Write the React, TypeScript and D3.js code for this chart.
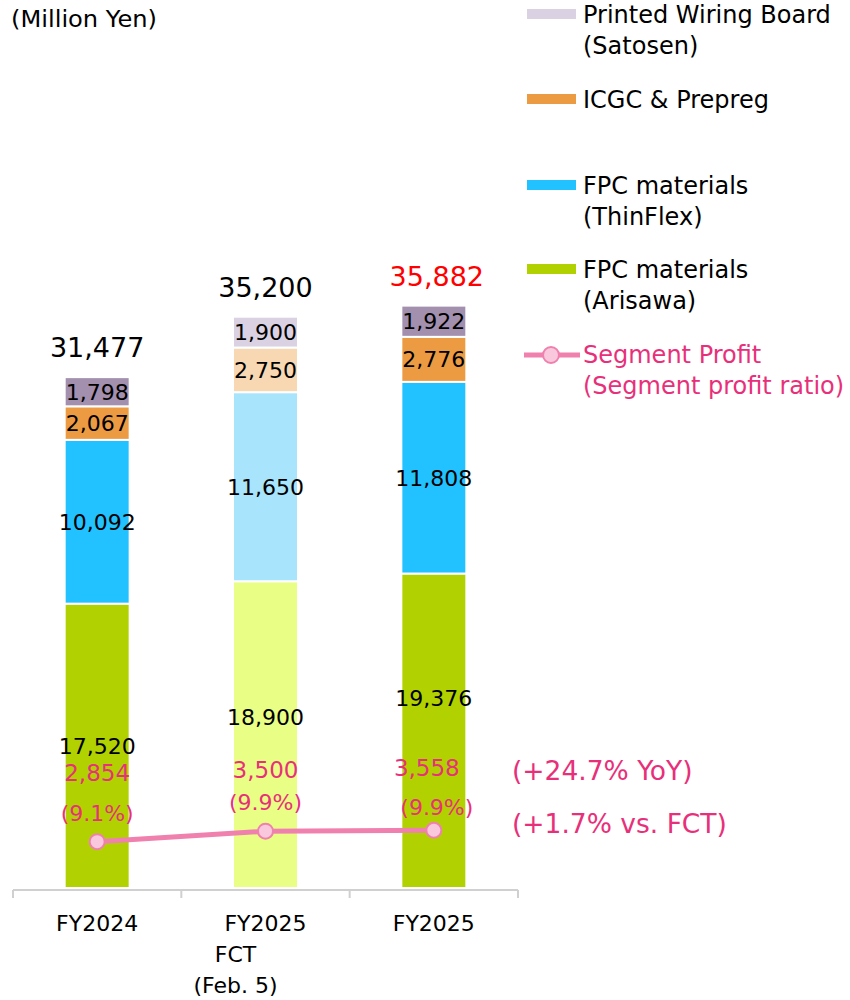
import React from "react";
import * as d3 from "d3";

const categories = ["FY2024", "FY2025 FCT", "FY2025"];
const categoryLabels = [["FY2024"], ["FY2025", "FCT", "(Feb. 5)"], ["FY2025"]];
const isForecast = [false, true, false];
const seriesKeys = ["arisawa", "thinflex", "icgc", "pwb"];
const seriesNames = [
  ["FPC materials", "(Arisawa)"],
  ["FPC materials", "(ThinFlex)"],
  ["ICGC & Prepreg"],
  ["Printed Wiring Board", "(Satosen)"],
];
const arisawa = [17520, 18900, 19376];
const thinflex = [10092, 11650, 11808];
const icgc = [2067, 2750, 2776];
const pwb = [1798, 1900, 1922];
const totals = [31477, 35200, 35882];
const segmentProfit = [2854, 3500, 3558];
const profitRatio = ["(9.1%)", "(9.9%)", "(9.9%)"];
const annotations = ["(+24.7% YoY)", "(+1.7% vs. FCT)"];

const colorsActual = ["#b2d100", "#22c1ff", "#ec9b42", "#a38fae"];
const colorsFct = ["#e8fe85", "#a8e5fc", "#f8d8b2", "#dad2e2"];
const legendColors = ["#b2d100", "#22c1ff", "#ec9b42", "#dad2e2"];
const lineColor = "#f080ae";
const pink = "#e8307a";
const FONT = "'DejaVu Sans', Verdana, sans-serif";

export default function App() {
  const W = 850, H = 1000;
  const base = 888;
  const y = d3.scaleLinear().domain([0, 40000]).range([base, base - 40000 * 0.01623]);
  const x = d3.scaleBand().domain(categories).range([13, 518]).paddingInner(0.614).paddingOuter(0.307);
  const bw = x.bandwidth();
  const cx = (c: string) => (x(c) as number) + bw / 2;

  const rows = categories.map((c, i) => ({
    cat: c,
    arisawa: arisawa[i],
    thinflex: thinflex[i],
    icgc: icgc[i],
    pwb: pwb[i],
  }));
  const stacked = d3.stack<any>().keys(seriesKeys)(rows);

  // label placement tweaks (styling only)
  const bottomLabelShift = [0, -18, -33];
  const profitValShift = [-69, -61, -63];
  const profitRatioShift = [-29, -29, -23];
  const profitValDx = [0, 0, -7];
  const profitRatioDx = [0, 0, 3];

  const line = d3
    .line<number>()
    .x((_, i) => cx(categories[i]))
    .y((v) => y(v));

  const step = x.step();
  const axisStart = 13;
  const tickXs = [0, 1, 2, 3].map((k) => axisStart + k * step);

  const legendItems = [
    { idx: 3, y: 14 },
    { idx: 2, y: 99 },
    { idx: 1, y: 185 },
    { idx: 0, y: 269 },
  ];

  return (
    <svg
      width={W}
      height={H}
      style={{ position: "absolute", left: 0, top: 0, background: "#fff" }}
      fontFamily={FONT}
    >
      <text x={11} y={27} fontSize={23} textLength={146} lengthAdjust="spacingAndGlyphs" fill="#000">(Million Yen)</text>

      {stacked.map((s, si) =>
        s.map((d, ci) => {
          const y0 = y(d[0]);
          const y1 = y(d[1]);
          const fill = isForecast[ci] ? colorsFct[si] : colorsActual[si];
          return (
            <rect
              key={`r${si}-${ci}`}
              x={x(categories[ci])}
              y={y1}
              width={bw}
              height={y0 - y1}
              fill={fill}
              stroke="#fff"
              strokeWidth={2}
            />
          );
        })
      )}

      {stacked.map((s, si) =>
        s.map((d, ci) => {
          const mid = (y(d[0]) + y(d[1])) / 2 + (si === 0 ? bottomLabelShift[ci] : 0);
          const v = d[1] - d[0];
          return (
            <text
              key={`l${si}-${ci}`}
              x={cx(categories[ci])}
              y={mid}
              dy="0.36em"
              textAnchor="middle"
              fontSize={22}
              fill="#000"
            >
              {d3.format(",")(v)}
            </text>
          );
        })
      )}

      {totals.map((t, i) => (
        <text
          key={`t${i}`}
          x={cx(categories[i]) + (i === 2 ? 3 : 0)}
          y={y(t) - 20}
          textAnchor="middle"
          fontSize={27}
          fill={i === 2 ? "#ff0000" : "#000"}
        >
          {d3.format(",")(t)}
        </text>
      ))}

      {/* axis */}
      <line x1={axisStart} x2={tickXs[3]} y1={base + 2} y2={base + 2} stroke="#d0d0d0" strokeWidth={2} />
      {tickXs.map((tx, i) => (
        <line key={`tk${i}`} x1={tx} x2={tx} y1={base + 2} y2={base + 10} stroke="#d0d0d0" strokeWidth={2} />
      ))}
      {categoryLabels.map((lines, i) =>
        lines.map((l, j) => (
          <text
            key={`c${i}-${j}`}
            x={cx(categories[i]) + (j > 0 ? -30 : 0)}
            y={931 + j * 31}
            textAnchor="middle"
            fontSize={22}
            fill="#000"
          >
            {l}
          </text>
        ))
      )}

      {/* profit line */}
      <path d={line(segmentProfit) as string} fill="none" stroke={lineColor} strokeWidth={5} />
      {segmentProfit.map((v, i) => (
        <circle key={`p${i}`} cx={cx(categories[i])} cy={y(v)} r={7.5} fill="#f9c8dc" stroke={lineColor} strokeWidth={2} />
      ))}
      {segmentProfit.map((v, i) => (
        <text
          key={`pv${i}`}
          x={cx(categories[i]) + profitValDx[i]}
          y={y(v) + profitValShift[i]}
          dy="0.36em"
          textAnchor="middle"
          fontSize={23}
          fill={pink}
        >
          {d3.format(",")(v)}
        </text>
      ))}
      {profitRatio.map((r, i) => (
        <text
          key={`pr${i}`}
          x={cx(categories[i]) + profitRatioDx[i]}
          y={y(segmentProfit[i]) + profitRatioShift[i]}
          dy="0.36em"
          textAnchor="middle"
          fontSize={22}
          fill={pink}
        >
          {r}
        </text>
      ))}
      {annotations.map((a, i) => (
        <text key={`a${i}`} x={512} y={770 + i * 53} dy="0.36em" fontSize={26.5} fill={pink}>
          {a}
        </text>
      ))}

      {/* legend */}
      {legendItems.map((it) => (
        <g key={`lg${it.idx}`}>
          <rect x={527} y={it.y - 5} width={49} height={10} fill={legendColors[it.idx]} />
          {seriesNames[it.idx].map((n, j) => (
            <text key={j} x={583} y={it.y + j * 31} dy="0.36em" fontSize={24} fill="#000">
              {n}
            </text>
          ))}
        </g>
      ))}
      <line x1={524} x2={580} y1={355} y2={355} stroke={lineColor} strokeWidth={5} />
      <circle cx={551} cy={355} r={8} fill="#f9c8dc" stroke={lineColor} strokeWidth={2} />
      <text x={583} y={354} dy="0.36em" fontSize={24} fill={pink}>Segment Profit</text>
      <text x={583} y={385} dy="0.36em" fontSize={24} fill={pink}>(Segment profit ratio)</text>
    </svg>
  );
}
